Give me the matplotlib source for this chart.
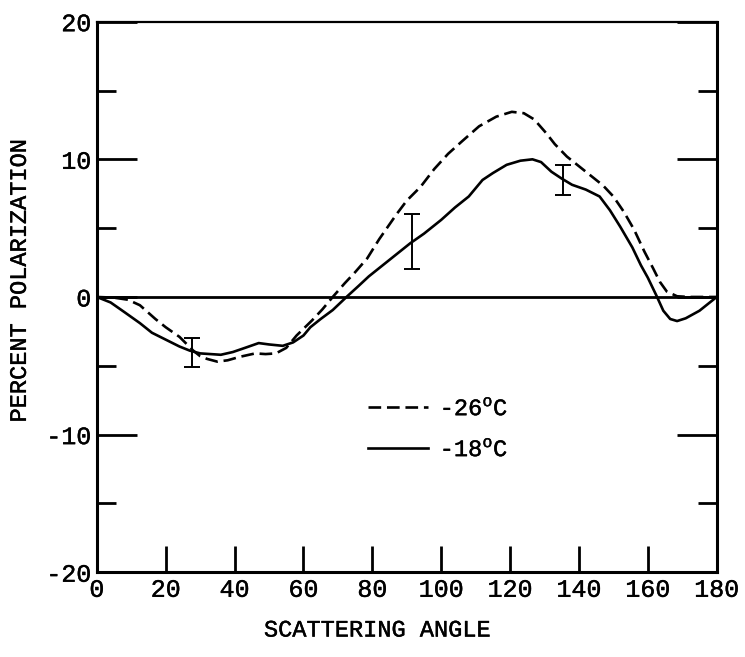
import numpy as np
import matplotlib
matplotlib.use("Agg")
import matplotlib.pyplot as plt
import matplotlib.patheffects as pe

plt.rcParams['font.family'] = ['Liberation Mono', 'DejaVu Sans Mono']
plt.rcParams['mathtext.fontset'] = 'custom'
plt.rcParams['mathtext.rm'] = 'Liberation Mono'
plt.rcParams['axes.unicode_minus'] = False

# -18 C curve (solid)
ang_18 = [0, 4, 8, 12.5, 16, 20, 24, 27, 30, 33, 36, 39.5, 43, 47, 50, 54, 57, 60,
          62, 65, 68.5, 72.5, 76, 79, 83, 87, 91, 95, 100, 104, 108, 112, 115, 119,
          123, 126.5, 129, 132, 135, 138, 142, 146, 149, 152, 155.5, 158, 160, 162.5,
          164.5, 166.5, 168.5, 171, 175, 180]
pol_18 = [0, -0.4, -1.1, -1.9, -2.6, -3.1, -3.6, -3.9, -4.1, -4.15, -4.2, -4.0, -3.7,
          -3.35, -3.45, -3.55, -3.3, -2.8, -2.2, -1.6, -0.95, 0, 0.8, 1.5, 2.3, 3.1,
          3.9, 4.6, 5.6, 6.5, 7.3, 8.5, 9.0, 9.6, 9.9, 10.0, 9.8, 9.1, 8.6, 8.15, 7.8,
          7.3, 6.3, 5.1, 3.6, 2.3, 1.4, 0.1, -1.0, -1.6, -1.75, -1.55, -1.0, 0]

# -26 C curve (dashed)
ang_26 = [0, 5, 9, 12.5, 17, 20, 24, 28, 30, 32, 35, 38, 41.5, 46, 49, 52, 55, 58,
          62.5, 65.5, 68.5, 72, 75, 78.5, 82, 87, 90, 94, 98, 102, 106, 111, 116,
          120.5, 124, 127, 130.5, 133, 136.5, 140, 144, 147, 150, 153, 156, 159,
          161.5, 163.5, 165.5, 168.5, 172, 180]
pol_26 = [0, -0.05, -0.2, -0.6, -1.6, -2.2, -2.9, -3.9, -4.3, -4.5, -4.7, -4.6, -4.35,
          -4.1, -4.15, -4.1, -3.7, -2.8, -1.7, -0.9, 0, 1.0, 1.8, 2.8, 4.2, 6.0, 7.0,
          8.0, 9.3, 10.4, 11.3, 12.4, 13.1, 13.45, 13.35, 12.9, 11.9, 11.1, 10.2, 9.5,
          8.7, 8.1, 7.3, 6.2, 4.9, 3.3, 2.1, 1.1, 0.4, 0.05, 0, 0]

# error bars
err_x = [27.5, 91.5, 135.3]
err_y = [-4.05, 4.0, 8.5]
err_h = [1.05, 2.0, 1.1]

x_ticks = [0, 20, 40, 60, 80, 100, 120, 140, 160, 180]
y_ticks = [-20, -10, 0, 10, 20]
y_minor = [-15, -5, 5, 15]

ink = [pe.withStroke(linewidth=0.3, foreground='black')]

fig = plt.figure(figsize=(7.45, 6.57), dpi=100)
ax = fig.add_axes([0.130, 0.129, 0.832, 0.838])

ax.axhline(0, color='black', lw=2.0)
ax.plot(ang_26, pol_26, color='black', lw=1.9, linestyle=(0, (4.8, 2.2)),
        label='-26$^{\\mathrm{o}}$C')
ax.plot(ang_18, pol_18, color='black', lw=1.9, label='-18$^{\\mathrm{o}}$C')
ax.errorbar(err_x, err_y, yerr=err_h, fmt='none', ecolor='black', elinewidth=1.4,
            capsize=6, capthick=1.4)

ax.set_xlim(0, 180)
ax.set_ylim(-20, 20)
ax.set_xticks(x_ticks)
ax.set_yticks(y_ticks)
ax.set_yticks(y_minor, minor=True)

for s in ax.spines.values():
    s.set_linewidth(2.2)
ax.spines['top'].set_linewidth(1.6)

ax.tick_params(axis='x', which='major', direction='in', length=19, width=2,
               top=False, labelsize=18, pad=4)
ax.tick_params(axis='y', which='major', direction='in', length=29, width=2,
               right=True, labelsize=18, pad=4)
ax.tick_params(axis='y', which='minor', direction='in', length=14, width=2,
               right=True)
for lab in ax.get_xticklabels() + ax.get_yticklabels():
    lab.set_path_effects(ink)

leg = ax.legend(loc='upper left', bbox_to_anchor=(0.437, 0.318), frameon=False,
                fontsize=17, handlelength=2.55, handletextpad=0.5,
                borderpad=0, borderaxespad=0, labelspacing=0.76)
for t in leg.get_texts():
    t.set_path_effects(ink)

fig.text(0.506, 0.041, 'SCATTERING ANGLE', ha='center', va='center', fontsize=17,
         path_effects=ink)
fig.text(0.026, 0.572, 'PERCENT POLARIZATION', ha='center', va='center',
         rotation=90, fontsize=17, path_effects=ink)

fig.savefig('out.png', dpi=100)
